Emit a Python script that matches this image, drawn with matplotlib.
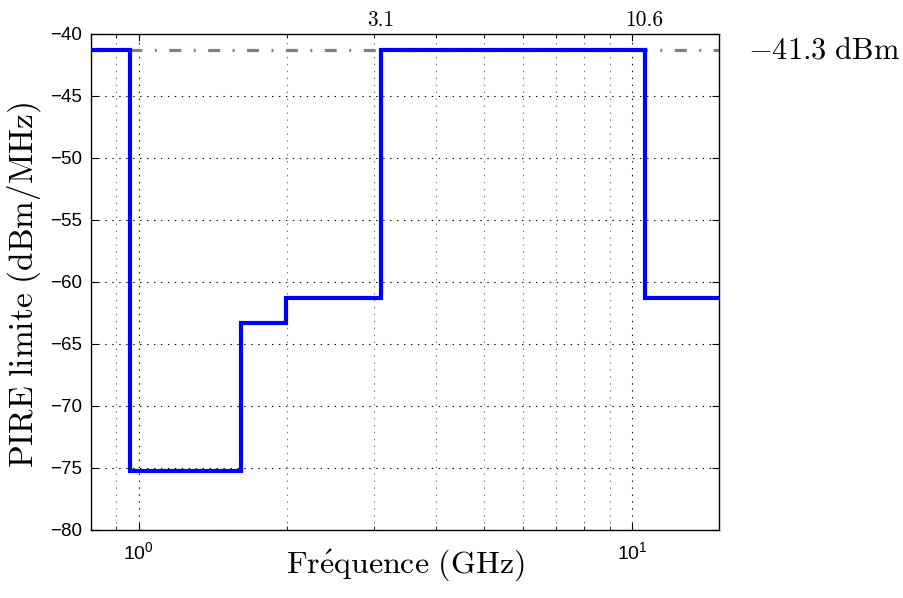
import matplotlib
matplotlib.use("Agg")
import matplotlib.pyplot as plt
from matplotlib.ticker import FixedLocator, FixedFormatter, NullFormatter

# Data
edges = [0.8, 0.96, 1.61, 1.99, 3.1, 10.6, 15.0]
levels = [-41.3, -75.3, -63.3, -61.3, -41.3, -61.3]
ref_level = -41.3
yticks = [-80, -75, -70, -65, -60, -55, -50, -45, -40]
xticks_major = [1, 10]
xtick_labels = [r'$10^{0}$', r'$10^{1}$']
xticks_minor = [0.8, 0.9, 2, 3, 4, 5, 6, 7, 8, 9]
top_marks = [3.1, 10.6]
top_labels = ['3.1', '10.6']

plt.rcParams['axes.unicode_minus'] = True
plt.rcParams['mathtext.fontset'] = 'custom'
plt.rcParams['mathtext.rm'] = 'Liberation Sans'
plt.rcParams['mathtext.it'] = 'Liberation Sans'
plt.rcParams['font.family'] = 'Liberation Sans'
plt.rcParams['lines.scale_dashes'] = False

fig = plt.figure(figsize=(9.04, 5.98), dpi=100)
ax = fig.add_axes([90.7/904, 1-529.7/598, (719-90.7)/904, (529.7-34)/598])

ax.set_xscale('log')
ax.set_xlim(edges[0], edges[-1])
ax.set_ylim(-80, -40)

ax.axhline(ref_level, color='#808080', lw=2.3, linestyle=(0, (8.6, 9, 1.4, 9)),
           dash_capstyle='butt', zorder=2)
ax.stairs(levels, edges, baseline=None, color='#0000ff', lw=3, zorder=3)

ax.xaxis.set_major_locator(FixedLocator(xticks_major))
ax.xaxis.set_major_formatter(FixedFormatter(xtick_labels))
ax.xaxis.set_minor_locator(FixedLocator(xticks_minor))
ax.xaxis.set_minor_formatter(NullFormatter())
ax.set_yticks(yticks)

ax.grid(True, which='major', linestyle=(0, (1, 4)), color='black', lw=0.8)
ax.grid(True, which='minor', axis='x', linestyle=(0, (1, 4)), color='#777777', lw=0.8)

ax.tick_params(which='both', direction='in', top=True, right=True)
ax.tick_params(which='major', length=5, width=0.8)
ax.tick_params(which='minor', length=3, width=0.6)
ax.tick_params(axis='y', labelsize=13.5, pad=6)
ax.tick_params(axis='x', pad=8, labelsize=14)
for s in ax.spines.values():
    s.set_linewidth(1.0)

for xm, lab in zip(top_marks, top_labels):
    ax.annotate(lab, xy=(xm, -40), xycoords='data', xytext=(0, 3),
                textcoords='offset points', ha='center', va='bottom',
                fontsize=15.5, family='cmr10')

ax.annotate(r'$-41.3\ \mathrm{dBm}$', xy=(1.0, ref_level), xycoords=('axes fraction', 'data'),
            xytext=(21, 0), textcoords='offset points', ha='left', va='center',
            fontsize=22, math_fontfamily='cm')

fig.text(405/904, 1-565/598, r'$\mathrm{Fr\acute{e}quence\ (GHz)}$', ha='center', va='center',
         fontsize=23, math_fontfamily='cm')
fig.text(24/904, 1-285/598, r'$\mathrm{PIRE\ limite\ (dBm/MHz)}$', ha='center', va='center',
         rotation=90, fontsize=24, math_fontfamily='cm')

fig.savefig('out.png', dpi=100)
